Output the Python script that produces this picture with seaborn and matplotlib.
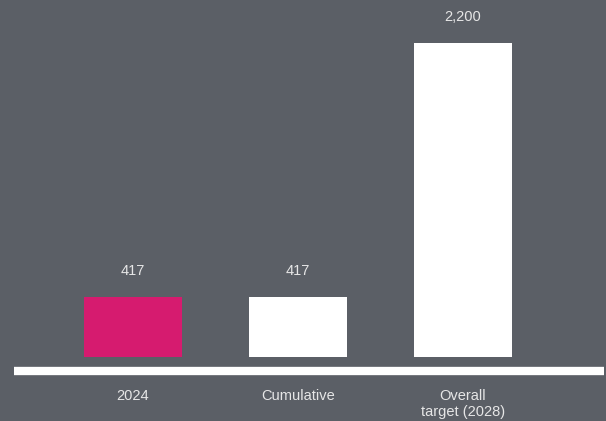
import matplotlib
matplotlib.use("Agg")
import matplotlib.pyplot as plt
import seaborn as sns
import pandas as pd

categories = ["2024", "Cumulative", "Overall\ntarget (2028)"]
values = [417, 417, 2200]
value_labels = ["417", "417", "2,200"]

BG = "#5b5f66"
MAGENTA = "#d61b6f"
WHITE = "#ffffff"
TEXT = "#e6e6e6"
bar_colors = [MAGENTA, WHITE, WHITE]

sns.set_theme(style="white")
plt.rcParams["font.family"] = ["Liberation Sans", "DejaVu Sans"]

df = pd.DataFrame({"category": categories, "value": values})

fig = plt.figure(figsize=(6.06, 4.21), dpi=100, facecolor=BG)
ax = fig.add_axes([0, 0, 1, 1])
ax.set_facecolor(BG)

sns.barplot(data=df, x="category", y="value", hue="category",
            palette=bar_colors, order=categories, width=0.594,
            saturation=1, legend=False, linewidth=0, edgecolor="none",
            ax=ax)

# pixel-to-data mapping: category step 165 px, zero line at 357 px
px_unit = 165.0
ax.set_xlim(-133 / px_unit, (606 - 133) / px_unit)
scale = (357 - 43) / 2200.0
ax.set_ylim((357 - 421) / scale, 357 / scale)

for s in ax.spines.values():
    s.set_visible(False)
ax.set_xticks([])
ax.set_yticks([])
ax.set_xlabel("")
ax.set_ylabel("")

# baseline strip under the bars
base_y = (357 - 371) / scale
ax.plot([(14 - 133) / px_unit, (604 - 133) / px_unit], [base_y, base_y],
        color=WHITE, lw=6, solid_capstyle="butt", clip_on=False)

# value labels above bars
for i, (v, lab) in enumerate(zip(values, value_labels)):
    ax.text(i, v + 19 / scale, lab, ha="center", va="bottom",
            color=TEXT, fontsize=10.5)

# category labels beneath baseline
cat_y = (357 - 389) / scale
for i, c in enumerate(categories):
    ax.text(i, cat_y, c, ha="center", va="top", color=TEXT,
            fontsize=10.5, linespacing=1.15)

fig.savefig("out.png", dpi=100, facecolor=BG)
